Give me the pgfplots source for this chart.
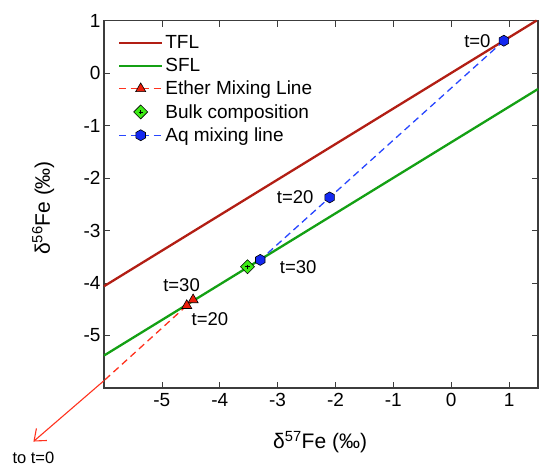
\documentclass[border=0pt]{standalone}
\usepackage{pgfplots}
\pgfplotsset{compat=1.18}
\usepackage{fontspec}
\setmainfont{Liberation Sans}
\usetikzlibrary{arrows.meta}
\definecolor{tfl}{RGB}{178,30,20}
\definecolor{sfl}{RGB}{20,160,20}
\definecolor{ether}{RGB}{255,50,30}
\definecolor{etherfill}{RGB}{235,30,10}
\definecolor{bulk}{RGB}{60,235,20}
\definecolor{aq}{RGB}{40,70,255}
\definecolor{aqfill}{RGB}{20,40,240}
\definecolor{axgray}{RGB}{60,60,60}
\pgfdeclareplotmark{hexagon*}{%
  \pgfpathmoveto{\pgfpointpolar{30}{\pgfplotmarksize}}%
  \pgfpathlineto{\pgfpointpolar{90}{\pgfplotmarksize}}%
  \pgfpathlineto{\pgfpointpolar{150}{\pgfplotmarksize}}%
  \pgfpathlineto{\pgfpointpolar{210}{\pgfplotmarksize}}%
  \pgfpathlineto{\pgfpointpolar{270}{\pgfplotmarksize}}%
  \pgfpathlineto{\pgfpointpolar{330}{\pgfplotmarksize}}%
  \pgfpathclose
  \pgfusepathqfillstroke}
\pgfdeclareplotmark{diamondplus}{%
  \pgfpathmoveto{\pgfqpoint{0pt}{\pgfplotmarksize}}%
  \pgfpathlineto{\pgfqpoint{\pgfplotmarksize}{0pt}}%
  \pgfpathlineto{\pgfqpoint{0pt}{-\pgfplotmarksize}}%
  \pgfpathlineto{\pgfqpoint{-\pgfplotmarksize}{0pt}}%
  \pgfpathclose
  \pgfusepathqfillstroke
  \pgfpathmoveto{\pgfqpoint{-0.3\pgfplotmarksize}{0pt}}%
  \pgfpathlineto{\pgfqpoint{0.3\pgfplotmarksize}{0pt}}%
  \pgfpathmoveto{\pgfqpoint{0pt}{-0.3\pgfplotmarksize}}%
  \pgfpathlineto{\pgfqpoint{0pt}{0.3\pgfplotmarksize}}%
  \pgfusepathqstroke}
\begin{document}
\begin{tikzpicture}
\path[use as bounding box] (0,0) rectangle (539pt,467pt);
\begin{axis}[
  at={(104pt,79pt)}, anchor=south west,
  scale only axis, width=434pt, height=367.5pt,
  xmin=-6, xmax=1.5, ymin=-6, ymax=1,
  clip=false,
  xtick={-5,-4,-3,-2,-1,0,1},
  ytick={-5,-4,-3,-2,-1,0,1},
  /pgf/number format/assume math mode=true,
  tick align=inside,
  major tick length=6pt,
  tick style={axgray, line width=0.6pt},
  axis line style={axgray, line width=1.1pt},
  ticklabel style={font=\fontsize{19}{22}\selectfont},
  xticklabel style={yshift=-2pt},
  xlabel={δ\textsuperscript{57}Fe (‰)},
  ylabel={δ\textsuperscript{56}Fe (‰)},
  label style={font=\fontsize{21}{25}\selectfont},
  xlabel style={at={(axis description cs:0.498,-0.147)}, anchor=center},
  ylabel style={at={(axis description cs:-0.14,0.49)}, anchor=center},
  legend cell align=left,
  legend style={draw=none, fill=none, at={(0.025,0.97)}, anchor=north west,
    font=\fontsize{19}{22}\selectfont, row sep=4pt},
  every axis plot/.append style={legend image code/.code={%
    \draw[mark repeat=2,mark phase=2,##1] plot coordinates {(0pt,0pt) (21.5pt,0pt) (43pt,0pt)};}},
]
% TFL
\addplot[tfl, line width=2.3pt] coordinates {(-6,-4.062) (1.477,1.0)};
\addlegendentry{TFL}
% SFL
\addplot[sfl, line width=2.3pt] coordinates {(-6,-5.382) (1.5,-0.305)};
\addlegendentry{SFL}
% Ether extension line
\addplot[ether, dash pattern=on 7pt off 4.5pt, line width=1.3pt, forget plot] coordinates {(-4.57,-4.43) (-6,-5.86)};
\addplot[ether, dash pattern=on 7pt off 4.5pt, line width=1.3pt, mark=triangle*, mark size=5.8pt,
  mark options={solid, fill=etherfill, draw=black, line width=0.6pt}]
  coordinates {(-4.46,-4.32) (-4.57,-4.43)};
\addlegendentry{Ether Mixing Line}
% Bulk
\addplot[only marks, mark=diamondplus, mark size=7pt,
  mark options={fill=bulk, draw=black, line width=0.6pt}]
  coordinates {(-3.52,-3.69)};
\addlegendentry{Bulk composition}
% Aq mixing line
\addplot[aq, dash pattern=on 7pt off 4.5pt, line width=1.3pt, mark=hexagon*, mark size=5.5pt,
  mark options={solid, fill=aqfill, draw=black, line width=0.6pt}]
  coordinates {(0.91,0.615) (-2.10,-2.37) (-3.30,-3.56)};
\addlegendentry{Aq mixing line}
% labels
\node[font=\fontsize{18.5}{21}\selectfont, anchor=east] at (axis cs:0.74,0.60) {t=0};
\node[font=\fontsize{18.5}{21}\selectfont, anchor=east] at (axis cs:-2.32,-2.37) {t=20};
\node[font=\fontsize{18.5}{21}\selectfont, anchor=west] at (axis cs:-3.02,-3.69) {t=30};
\node[font=\fontsize{18.5}{21}\selectfont] at (axis cs:-4.66,-4.05) {t=30};
\node[font=\fontsize{18.5}{21}\selectfont] at (axis cs:-4.17,-4.69) {t=20};
% arrow to t=0
\draw[ether, line width=1.1pt, -{Straight Barb[length=10pt,width=16pt]}] (axis cs:-6,-5.86) -- (axis cs:-7.22,-7.02);
\node[font=\fontsize{16.5}{19}\selectfont] at (axis cs:-7.22,-7.33) {to t=0};
\end{axis}
\end{tikzpicture}
\end{document}
